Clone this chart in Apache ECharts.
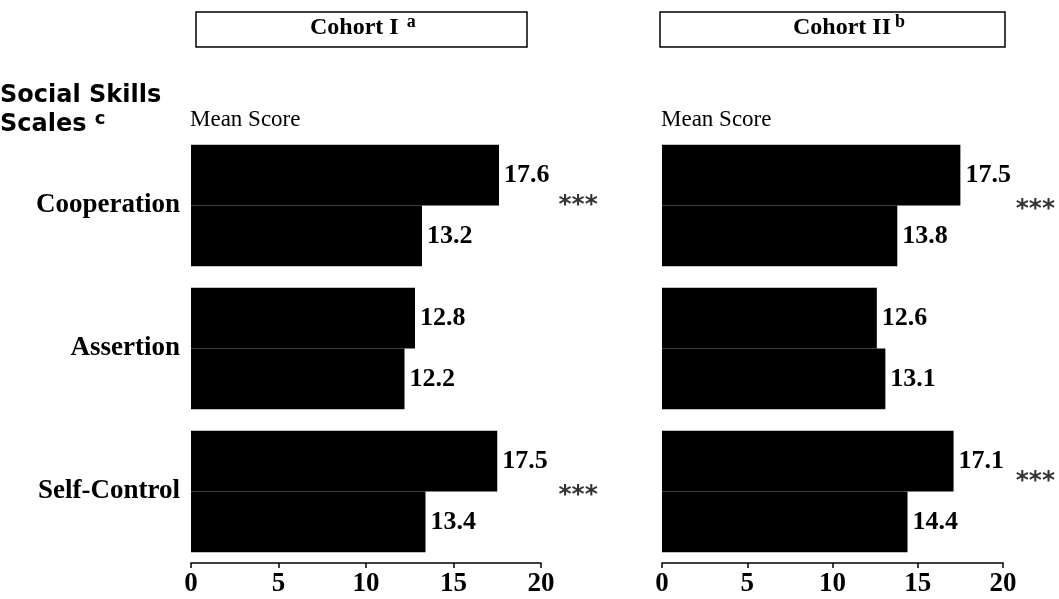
<!DOCTYPE html>
<html>
<head>
<meta charset="utf-8">
<script src="https://cdn.jsdelivr.net/npm/echarts@6/dist/echarts.min.js"></script>
<style>
html,body{margin:0;padding:0;background:#fff}
#main{width:1059px;height:599px}
</style>
</head>
<body>
<div id="main"></div>
<script>
// 数据
var scales = ['Cooperation', 'Assertion', 'Self-Control'];
var cohort1Top = [17.6, 12.8, 17.5];
var cohort1Bottom = [13.2, 12.2, 13.4];
var cohort2Top = [17.5, 12.6, 17.1];
var cohort2Bottom = [13.8, 13.1, 14.4];
var sig1 = ['***', '', '***'];
var sig2 = ['***', '', '***'];
var xTicks = [0, 5, 10, 15, 20];

var serif = 'Liberation Serif';
var myCharts = echarts.init(document.getElementById('main'));

function valueLabel(){
    return {
        show: true,
        position: 'right',
        distance: 5,
        fontFamily: serif,
        fontWeight: 'bold',
        fontSize: 26,
        color: '#000'
    };
}

//星号的位置
function sigData(sig, x, offsets){
    var list = [];
    for(var i = 0; i < sig.length; i++){
        if(!sig[i]) continue;
        list.push({value: [x, scales[i]], name: sig[i], label: {offset: [0, offsets[i]]}});
    }
    return list;
}

function xAxisOf(idx){
    return {
        gridIndex: idx,
        type: 'value',
        min: xTicks[0],
        max: xTicks[xTicks.length - 1],
        interval: xTicks[1] - xTicks[0],
        splitLine: {show: false},
        axisLine: {show: true, lineStyle: {color: '#000', width: 1.5}},
        axisTick: {show: true, length: 5, lineStyle: {color: '#000', width: 1.5}},
        axisLabel: {color: '#000', fontFamily: serif, fontWeight: 'bold', fontSize: 27, margin: 8}
    };
}

function yAxisOf(idx, showLabel){
    return {
        gridIndex: idx,
        type: 'category',
        inverse: true,
        data: scales,
        axisLine: {show: false},
        axisTick: {show: false},
        axisLabel: {show: showLabel, color: '#000', fontFamily: serif, fontWeight: 'bold', fontSize: 27, margin: 11}
    };
}

function barSeries(idx, data){
    return {
        type: 'bar',
        xAxisIndex: idx,
        yAxisIndex: idx,
        data: data,
        barGap: '0%',
        barCategoryGap: '15%',
        itemStyle: {color: '#000'},
        label: valueLabel(),
        silent: true
    };
}

function sigSeries(idx, data){
    return {
        type: 'scatter',
        xAxisIndex: idx,
        yAxisIndex: idx,
        data: data,
        symbolSize: 0,
        clip: false,
        silent: true,
        label: {
            show: true,
            position: 'right',
            distance: 0,
            formatter: '{b}',
            fontFamily: 'DejaVu Sans',
            fontWeight: 'bold',
            fontSize: 25,
            color: '#000'
        }
    };
}

function supText(left, main, sup, gap){
    return {type: 'text', left: left, top: 13, style: {
        text: '{t|' + main + '}{s|' + sup + '}',
        rich: {
            t: {fontFamily: serif, fontWeight: 'bold', fontSize: 24, fill: '#000'},
            s: {fontFamily: serif, fontWeight: 'bold', fontSize: 18, fill: '#000', padding: [0, 0, 12, gap]}
        }
    }};
}

var option = {
    backgroundColor: '#fff',
    animation: false,
    grid: [
        {left: 191, right: 518, top: 134, bottom: 36},
        {left: 662, right: 56, top: 134, bottom: 36}
    ],
    xAxis: [xAxisOf(0), xAxisOf(1)],
    yAxis: [yAxisOf(0, true), yAxisOf(1, false)],
    series: [
        barSeries(0, cohort1Top),
        barSeries(0, cohort1Bottom),
        barSeries(1, cohort2Top),
        barSeries(1, cohort2Bottom),
        sigSeries(0, sigData(sig1, 21.0, [0, 4, 4])),
        sigSeries(1, sigData(sig2, 20.75, [4, 4, -10]))
    ],
    graphic: [
        {type: 'rect', shape: {x: 196, y: 12, width: 331, height: 35}, style: {fill: '#fff', stroke: '#000', lineWidth: 1.5}},
        {type: 'rect', shape: {x: 660, y: 12, width: 345, height: 35}, style: {fill: '#fff', stroke: '#000', lineWidth: 1.5}},
        supText(310, 'Cohort I', 'a', 8),
        supText(793, 'Cohort II', 'b', 4),
        {type: 'text', left: 0, top: 84, style: {
            text: 'Social Skills', fontFamily: 'DejaVu Sans', fontWeight: 'bold', fontSize: 24, fill: '#000'
        }},
        {type: 'text', left: 0, top: 110, style: {
            text: '{t|Scales }{s|c}',
            rich: {
                t: {fontFamily: 'DejaVu Sans', fontWeight: 'bold', fontSize: 24, fill: '#000'},
                s: {fontFamily: 'DejaVu Sans', fontWeight: 'bold', fontSize: 18, fill: '#000', padding: [0, 0, 12, 0]}
            }
        }},
        {type: 'text', left: 190, top: 108, style: {
            text: 'Mean Score', fontFamily: serif, fontSize: 23, fill: '#000'
        }},
        {type: 'text', left: 661, top: 108, style: {
            text: 'Mean Score', fontFamily: serif, fontSize: 23, fill: '#000'
        }}
    ]
};

myCharts.setOption(option);
</script>
</body>
</html>
